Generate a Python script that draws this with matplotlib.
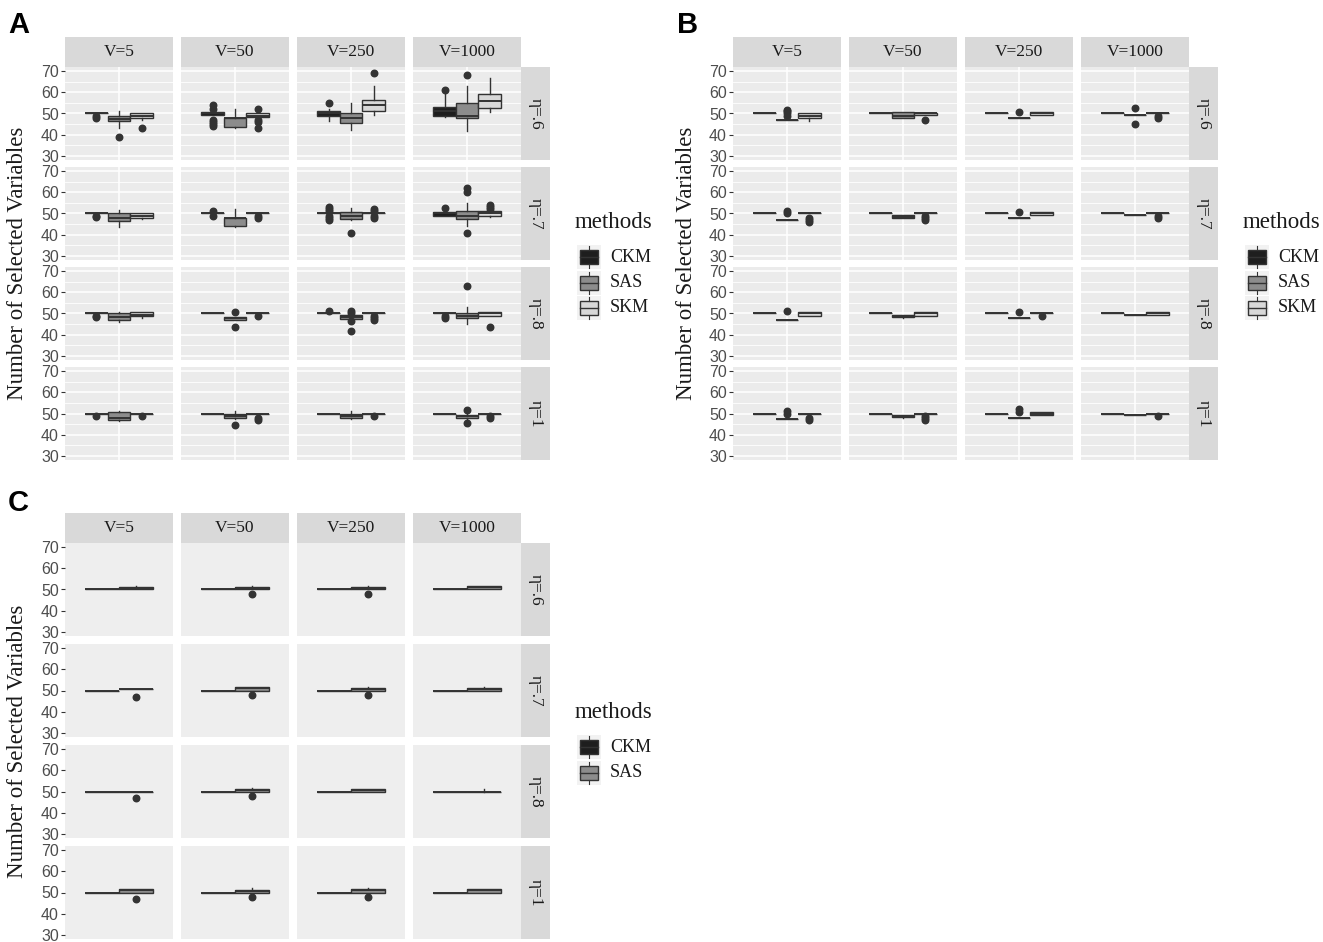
import matplotlib
matplotlib.use("Agg")
import matplotlib.pyplot as plt
from matplotlib.patches import Rectangle

W, H = 1323, 942
SERIF = "Liberation Serif"
SANS = "Liberation Sans"

v_labels = ["V=5", "V=50", "V=250", "V=1000"]
eta_labels = ["\u03b7=.6", "\u03b7=.7", "\u03b7=.8", "\u03b7=1"]
methods = ["CKM", "SAS", "SKM"]
fills = ["#1E1E1E", "#8C8C8C", "#D8D8D8"]

# box stats: (whislo, q1, med, q3, whishi, outliers)
# order: eta=.6 (V=5, 50, 250, 1000), eta=.7, eta=.8, eta=1
flat50 = (50, 50, 50, 50, 50, [])

a_ckm = [
    (50, 50, 50, 50, 50, [48, 49]),
    (49.5, 49.5, 50, 50.5, 50.5, [54, 52, 47, 46, 45, 44]),
    (46.5, 49, 50, 51, 52, [55]),
    (48.5, 49, 51, 53, 59, [61]),
    (50, 50, 50, 50, 50, [49, 48.5]),
    (50, 50, 50, 50, 50, [51, 49]),
    (50, 50, 50, 50, 50, [53, 52, 51, 49, 48, 47]),
    (49, 49, 50, 50.5, 51, [52.5]),
    (50, 50, 50, 50, 50, [49, 48.5]),
    (50, 50, 50, 50, 50, []),
    (50, 50, 50, 50, 50, [51]),
    (50, 50, 50, 50, 50, [49, 48]),
    (50, 50, 50, 50, 50, [49]),
    (50, 50, 50, 50, 50, []),
    (50, 50, 50, 50, 50, []),
    (50, 50, 50, 50, 50, []),
]
a_sas = [
    (43, 46.5, 47.5, 49, 51, [39]),
    (43, 43.5, 48, 48, 52, []),
    (42, 45.5, 48, 50, 55, []),
    (41.5, 48, 49, 55, 63, [68]),
    (43.5, 46.5, 48, 50, 51.5, []),
    (43.5, 44, 48, 48, 52, []),
    (47, 47.5, 49, 50.5, 52.5, [41]),
    (44, 47.5, 49, 51, 55, [62, 60, 41]),
    (46, 47, 48.5, 50, 50.5, []),
    (47, 47, 48, 48.5, 48.5, [50.5, 43.5]),
    (47.5, 47.6, 48.5, 49.5, 49.5, [51, 50, 46.5, 41.5]),
    (45, 48, 49, 50, 53, [63]),
    (46.5, 47, 48, 50.5, 51, []),
    (47.5, 48, 49, 50, 51, [44.5]),
    (47.5, 48, 49, 50, 51, []),
    (47.5, 48, 49, 49.5, 50.5, [51.5, 45.5]),
]
a_skm = [
    (47, 48, 49, 50, 50, [43]),
    (48, 48.5, 49, 50, 50, [52, 47, 46, 43]),
    (49.5, 51, 54, 56.5, 63, [69]),
    (50.5, 52.5, 56, 59, 67, []),
    (47.5, 48, 49, 50, 50, []),
    (50, 50, 50, 50, 50, [49, 48]),
    (50, 50, 50, 50, 50, [52, 51, 49, 48]),
    (48.5, 49, 50, 51, 51, [54, 53, 52]),
    (48, 48.7, 49.5, 50.5, 50.5, []),
    (50, 50, 50, 50, 50, [49]),
    (50, 50, 50, 50, 50, [49, 48, 47]),
    (49, 49, 50, 50.5, 50.5, [43.5]),
    (50, 50, 50, 50, 50, [49]),
    (50, 50, 50, 50, 50, [48, 47]),
    (50, 50, 50, 50, 50, [49]),
    (50, 50, 50, 50, 50, [49, 48]),
]

b_ckm = [flat50] * 16
b_sas = [
    (47, 47, 47, 47, 47, [51.5, 51, 50, 49]),
    (48, 48, 49, 50.5, 50.5, []),
    (48, 48, 48, 48, 48, [50.5]),
    (49.5, 49.5, 49.5, 49.5, 49.5, [52.5, 45]),
    (47, 47, 47, 47, 47, [51, 50]),
    (48, 48, 48.5, 49.5, 49.5, []),
    (48, 48, 48, 48, 48, [50.5]),
    (49.5, 49.5, 49.5, 49.5, 49.5, []),
    (47, 47, 47, 47, 47, [51]),
    (48, 48.5, 49, 49.5, 49.5, []),
    (48, 48, 48, 48, 48, [50.5]),
    (49.5, 49.5, 49.5, 49.5, 49.5, []),
    (47.5, 47.5, 47.5, 47.5, 47.5, [51, 50]),
    (48, 48.5, 49, 49.5, 49.5, []),
    (48, 48, 48, 48, 48, [52, 50.5]),
    (49.5, 49.5, 49.5, 49.5, 49.5, []),
]
b_skm = [
    (46.5, 48, 49, 50, 50, []),
    (49.5, 49.5, 50, 50, 50, [47]),
    (49.5, 49.5, 50, 50.5, 50.5, []),
    (50, 50, 50, 50, 50, [49, 48]),
    (50, 50, 50, 50, 50, [48, 47, 46]),
    (50, 50, 50, 50, 50, [49, 48, 47]),
    (49.5, 49.5, 50, 50.5, 50.5, []),
    (50, 50, 50, 50, 50, [49, 48]),
    (49, 49, 50, 50.5, 50.5, []),
    (49, 49, 50, 50.5, 50.5, []),
    (50, 50, 50, 50, 50, [49]),
    (49.5, 49.5, 50, 50.5, 50.5, []),
    (50, 50, 50, 50, 50, [48, 47]),
    (50, 50, 50, 50, 50, [49, 48, 47]),
    (49.5, 49.5, 50, 50.5, 50.5, []),
    (50, 50, 50, 50, 50, [49]),
]

c_ckm = [flat50] * 16
c_sas = [
    (50, 50, 50.5, 51, 51.5, []),
    (50, 50, 50.5, 51, 51.5, [48]),
    (50, 50, 50.5, 51, 51.5, [48]),
    (50, 50, 51, 51.5, 51.5, []),
    (50.5, 50.5, 50.5, 50.5, 50.5, [47]),
    (50, 50, 51, 51.5, 51.5, [48]),
    (50, 50, 50.5, 51, 51.5, [48]),
    (50, 50, 50.5, 51, 51.5, []),
    (50, 50, 50, 50, 50, [47]),
    (50, 50, 50.5, 51, 51.5, [48]),
    (50, 50, 50.5, 51, 51, []),
    (50, 50, 50, 50, 51, []),
    (50, 50, 51, 51.5, 51.5, [47]),
    (50, 50, 50.5, 51, 52, [48]),
    (50, 50, 51, 51.5, 52, [48]),
    (50, 50, 51, 51.5, 51.5, []),
]

fig = plt.figure(figsize=(W / 100, H / 100), dpi=100)


def px_axes(x, y, w, h):
    return fig.add_axes([x / W, 1 - (y + h) / H, w / W, h / H])


def to_stats(t):
    lo, q1, med, q3, hi, out = t
    return dict(whislo=lo, q1=q1, med=med, q3=q3, whishi=hi, fliers=out)


def draw_grid(x0s, row_tops, strip_top, strip_x, series, grid=True):
    n = len(series)
    width = 0.75 / n
    pos = [1 + (i - (n - 1) / 2) * width for i in range(n)]
    pw, ph = 108, 93
    for r in range(4):
        for c in range(4):
            ax = px_axes(x0s[c], row_tops[r], pw, ph)
            ax.set_facecolor("#EBEBEB" if grid else "#EEEEEE")
            for s in ax.spines.values():
                s.set_visible(False)
            stats = [to_stats(s[r * 4 + c]) for s in series]
            res = ax.bxp(stats, positions=pos, widths=width, patch_artist=True,
                         showcaps=False,
                         boxprops=dict(edgecolor="#333333", linewidth=1.0),
                         medianprops=dict(color="#333333", linewidth=1.4),
                         whiskerprops=dict(color="#333333", linewidth=1.0),
                         flierprops=dict(marker="o", markersize=4.7,
                                         markerfacecolor="#333333",
                                         markeredgecolor="#333333"))
            for patch, fc in zip(res["boxes"], fills):
                patch.set_facecolor(fc)
            ax.set_xlim(0.4, 1.6)
            ax.set_ylim(28, 72)
            ax.set_xticks([1])
            ax.set_yticks([30, 40, 50, 60, 70])
            ax.tick_params(axis="x", length=0, labelbottom=False)
            ax.set_axisbelow(True)
            if grid:
                ax.set_yticks([35, 45, 55, 65], minor=True)
                ax.tick_params(axis="y", which="minor", length=0)
                ax.grid(which="major", color="white", lw=1.1)
                ax.grid(which="minor", axis="y", color="white", lw=0.6)
            if c == 0:
                ax.tick_params(axis="y", length=3, width=0.8, color="#333333",
                               pad=1.5, labelsize=11.5, labelcolor="#4D4D4D")
                for lab in ax.get_yticklabels():
                    lab.set_fontfamily(SANS)
            else:
                ax.tick_params(axis="y", length=0, labelleft=False)
    # column strips
    for c in range(4):
        sa = px_axes(x0s[c], strip_top, pw, row_tops[0] - strip_top)
        sa.set_facecolor("#D9D9D9")
        sa.set_xticks([]); sa.set_yticks([])
        for s in sa.spines.values():
            s.set_visible(False)
        sa.text(0.5, 0.5, v_labels[c], ha="center", va="center",
                fontfamily=SERIF, fontsize=12.5, color="#1A1A1A",
                transform=sa.transAxes)
    # row strips
    for r in range(4):
        sa = px_axes(strip_x, row_tops[r], 29, ph)
        sa.set_facecolor("#D9D9D9")
        sa.set_xticks([]); sa.set_yticks([])
        for s in sa.spines.values():
            s.set_visible(False)
        sa.text(0.5, 0.5, eta_labels[r], ha="center", va="center",
                rotation=270, fontfamily=SERIF, fontsize=12.5,
                color="#1A1A1A", transform=sa.transAxes)


cols_left = [65, 181, 297, 413]
cols_right = [733, 849, 965, 1081]
rows_top = [67, 167, 267, 367]
rows_bottom = [543, 644, 745, 846]

draw_grid(cols_left, rows_top, 37, 521, [a_ckm, a_sas, a_skm])
draw_grid(cols_right, rows_top, 37, 1189, [b_ckm, b_sas, b_skm])
draw_grid(cols_left, rows_bottom, 513, 521, [c_ckm, c_sas], grid=False)

# overlay in pixel coordinates for panel letters, axis titles and legends
ov = fig.add_axes([0, 0, 1, 1], zorder=-1)
ov.set_xlim(0, W)
ov.set_ylim(H, 0)
ov.axis("off")

for lx, ly, letter in [(8, 25, "A"), (677, 25, "B"), (8, 503, "C")]:
    ov.text(lx, ly, letter, fontfamily=SANS, fontweight="bold", fontsize=21,
            ha="left", va="center", color="black")

for tx, ty in [(18, 263), (687, 263), (18, 741)]:
    ov.text(tx, ty, "Number of Selected Variables", rotation=90,
            fontfamily=SERIF, fontsize=16.5, ha="center", va="center",
            color="#1A1A1A")


def draw_legend(x, ty, labels):
    ov.text(x, ty, "methods", fontfamily=SERIF, fontsize=16.5, ha="left",
            va="center", color="#1A1A1A")
    for i, lab in enumerate(labels):
        cy = ty + 35 + i * 25.5
        ov.add_patch(Rectangle((x + 2, cy - 12), 24, 24, facecolor="#F2F2F2",
                               edgecolor="none"))
        ov.add_patch(Rectangle((x + 5, cy - 7), 18, 14, facecolor=fills[i],
                               edgecolor="#333333", lw=1.0))
        ov.plot([x + 5, x + 23], [cy, cy], color="#333333", lw=1.0)
        ov.plot([x + 14, x + 14], [cy - 11, cy - 7], color="#333333", lw=0.8)
        ov.plot([x + 14, x + 14], [cy + 7, cy + 11], color="#333333", lw=0.8)
        ov.text(x + 35, cy, lab, fontfamily=SERIF, fontsize=13, ha="left",
                va="center", color="#1A1A1A")


draw_legend(575, 222, methods)
draw_legend(1243, 222, methods)
draw_legend(575, 712, methods[:2])

fig.savefig("out.png", dpi=100)
